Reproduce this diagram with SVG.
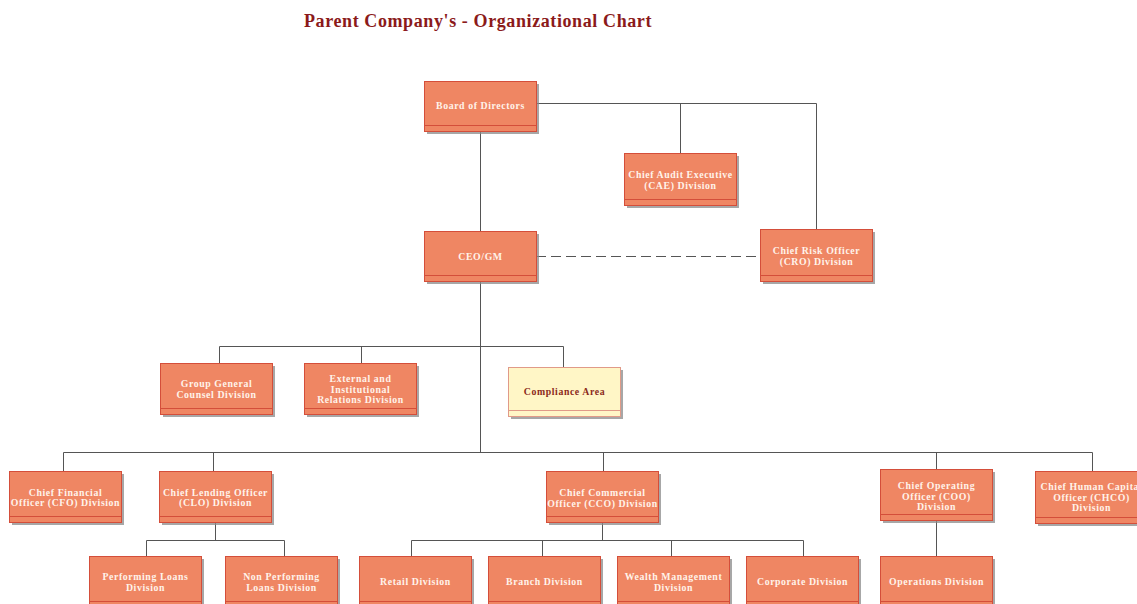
<svg xmlns="http://www.w3.org/2000/svg" width="1137" height="604" viewBox="0 0 1137 604">
<style>
.sh{fill:#8a8a8a;opacity:0.75}
.bx{fill:#EF8663;stroke:#D44E3A;stroke-width:1}
.bd{stroke:#D44E3A;stroke-width:1}
.yb{fill:#FFF6C6;stroke:#E09A88;stroke-width:1}
.yd{stroke:#E09A88;stroke-width:1}
.t{font-family:"Liberation Serif","DejaVu Serif",serif;font-weight:bold;font-size:9.8px;letter-spacing:0.6px;fill:#FFF3EA;text-anchor:middle}
.ty{font-family:"Liberation Serif","DejaVu Serif",serif;font-weight:bold;font-size:9.8px;letter-spacing:0.6px;fill:#8B2A1A;text-anchor:middle}
.c{fill:none;stroke:#555;stroke-width:1}
.title{font-family:"Liberation Serif","DejaVu Serif",serif;font-weight:bold;font-size:18px;letter-spacing:0.6px;fill:#8B1A1A;text-anchor:middle}
</style>
<rect width="1137" height="604" fill="#fff"/>
<text class="title" x="478" y="27">Parent Company's - Organizational Chart</text>
<g id="connectors">
<path class="c" d="M536 103.5H816.5V229M680.5 103.5V153"/>
<path class="c" d="M480.5 131V231"/>
<path class="c" d="M536 256.5H760" stroke-dasharray="10,5"/>
<path class="c" d="M480.5 281V452.5M219.5 363V346.5H563.5V367M361.5 346.5V363"/>
<path class="c" d="M63.5 471V452.5H1092.5V471M213.5 452.5V471M603.5 452.5V471M936.5 452.5V469"/>
<path class="c" d="M215.5 522V540.5M146.5 556V540.5H284.5V556"/>
<path class="c" d="M602.5 522V540.5M411.5 556V540.5H803.5V556M542.5 540.5V556M671.5 540.5V556"/>
<path class="c" d="M936.5 520V556"/>
</g>
<g id="board"><rect class="sh" x="427" y="84" width="112" height="50"/><rect class="bx" x="424.5" y="81.5" width="112" height="50"/><line class="bd" x1="424.5" y1="125.5" x2="536.5" y2="125.5"/><text class="t" x="480.5" y="109">Board of Directors</text></g>
<g id="cae"><rect class="sh" x="627" y="156" width="112" height="52"/><rect class="bx" x="624.5" y="153.5" width="112" height="52"/><line class="bd" x1="624.5" y1="199.5" x2="736.5" y2="199.5"/><text class="t" x="680.5" y="177.5">Chief Audit Executive</text><text class="t" x="680.5" y="188.5">(CAE) Division</text></g>
<g id="ceo"><rect class="sh" x="427" y="234" width="112" height="50"/><rect class="bx" x="424.5" y="231.5" width="112" height="50"/><line class="bd" x1="424.5" y1="275.5" x2="536.5" y2="275.5"/><text class="t" x="480.5" y="260">CEO/GM</text></g>
<g id="cro"><rect class="sh" x="763" y="232" width="112" height="52"/><rect class="bx" x="760.5" y="229.5" width="112" height="52"/><line class="bd" x1="760.5" y1="275.5" x2="872.5" y2="275.5"/><text class="t" x="816.5" y="254">Chief Risk Officer</text><text class="t" x="816.5" y="265">(CRO) Division</text></g>
<g id="ggc"><rect class="sh" x="163" y="366" width="112" height="51"/><rect class="bx" x="160.5" y="363.5" width="112" height="51"/><line class="bd" x1="160.5" y1="408.5" x2="272.5" y2="408.5"/><text class="t" x="216.5" y="387">Group General</text><text class="t" x="216.5" y="397.5">Counsel Division</text></g>
<g id="ext"><rect class="sh" x="307" y="366" width="112" height="51"/><rect class="bx" x="304.5" y="363.5" width="112" height="51"/><line class="bd" x1="304.5" y1="408.5" x2="416.5" y2="408.5"/><text class="t" x="360.5" y="382">External and</text><text class="t" x="360.5" y="392.5">Institutional</text><text class="t" x="360.5" y="403">Relations Division</text></g>
<g id="compliance"><rect class="sh" x="511" y="370" width="112" height="49"/><rect class="yb" x="508.5" y="367.5" width="112" height="49"/><line class="yd" x1="508.5" y1="410.5" x2="620.5" y2="410.5"/><text class="ty" x="564.5" y="394.5">Compliance Area</text></g>
<g id="cfo"><rect class="sh" x="12" y="474" width="112" height="51"/><rect class="bx" x="9.5" y="471.5" width="112" height="51"/><line class="bd" x1="9.5" y1="516.5" x2="121.5" y2="516.5"/><text class="t" x="65.5" y="495.5">Chief Financial</text><text class="t" x="65.5" y="506">Officer (CFO) Division</text></g>
<g id="clo"><rect class="sh" x="162" y="474" width="112" height="51"/><rect class="bx" x="159.5" y="471.5" width="112" height="51"/><line class="bd" x1="159.5" y1="516.5" x2="271.5" y2="516.5"/><text class="t" x="215.5" y="495.5">Chief Lending Officer</text><text class="t" x="215.5" y="506">(CLO) Division</text></g>
<g id="cco"><rect class="sh" x="549" y="474" width="112" height="51"/><rect class="bx" x="546.5" y="471.5" width="112" height="51"/><line class="bd" x1="546.5" y1="516.5" x2="658.5" y2="516.5"/><text class="t" x="602.5" y="496">Chief Commercial</text><text class="t" x="602.5" y="506.5">Officer (CCO) Division</text></g>
<g id="coo"><rect class="sh" x="883" y="472" width="112" height="51"/><rect class="bx" x="880.5" y="469.5" width="112" height="51"/><line class="bd" x1="880.5" y1="514.5" x2="992.5" y2="514.5"/><text class="t" x="936.5" y="489">Chief Operating</text><text class="t" x="936.5" y="499.5">Officer (COO)</text><text class="t" x="936.5" y="510">Division</text></g>
<g id="chco"><rect class="sh" x="1038" y="474" width="112" height="52"/><rect class="bx" x="1035.5" y="471.5" width="112" height="52"/><line class="bd" x1="1035.5" y1="517.5" x2="1147.5" y2="517.5"/><text class="t" x="1091.5" y="490">Chief Human Capital</text><text class="t" x="1091.5" y="500.5">Officer (CHCO)</text><text class="t" x="1091.5" y="511">Division</text></g>
<g id="perf"><rect class="sh" x="92" y="559" width="112" height="51"/><rect class="bx" x="89.5" y="556.5" width="112" height="51"/><line class="bd" x1="89.5" y1="601.5" x2="201.5" y2="601.5"/><text class="t" x="145.5" y="580">Performing Loans</text><text class="t" x="145.5" y="590.5">Division</text></g>
<g id="nonperf"><rect class="sh" x="228" y="559" width="112" height="51"/><rect class="bx" x="225.5" y="556.5" width="112" height="51"/><line class="bd" x1="225.5" y1="601.5" x2="337.5" y2="601.5"/><text class="t" x="281.5" y="580">Non Performing</text><text class="t" x="281.5" y="590.5">Loans Division</text></g>
<g id="retail"><rect class="sh" x="362" y="559" width="112" height="51"/><rect class="bx" x="359.5" y="556.5" width="112" height="51"/><line class="bd" x1="359.5" y1="601.5" x2="471.5" y2="601.5"/><text class="t" x="415.5" y="585">Retail Division</text></g>
<g id="branch"><rect class="sh" x="491" y="559" width="112" height="51"/><rect class="bx" x="488.5" y="556.5" width="112" height="51"/><line class="bd" x1="488.5" y1="601.5" x2="600.5" y2="601.5"/><text class="t" x="544.5" y="585">Branch Division</text></g>
<g id="wealth"><rect class="sh" x="620" y="559" width="112" height="51"/><rect class="bx" x="617.5" y="556.5" width="112" height="51"/><line class="bd" x1="617.5" y1="601.5" x2="729.5" y2="601.5"/><text class="t" x="673.5" y="580">Wealth Management</text><text class="t" x="673.5" y="590.5">Division</text></g>
<g id="corporate"><rect class="sh" x="749" y="559" width="112" height="51"/><rect class="bx" x="746.5" y="556.5" width="112" height="51"/><line class="bd" x1="746.5" y1="601.5" x2="858.5" y2="601.5"/><text class="t" x="802.5" y="585">Corporate Division</text></g>
<g id="operations"><rect class="sh" x="883" y="559" width="112" height="51"/><rect class="bx" x="880.5" y="556.5" width="112" height="51"/><line class="bd" x1="880.5" y1="601.5" x2="992.5" y2="601.5"/><text class="t" x="936.5" y="585">Operations Division</text></g>
</svg>
